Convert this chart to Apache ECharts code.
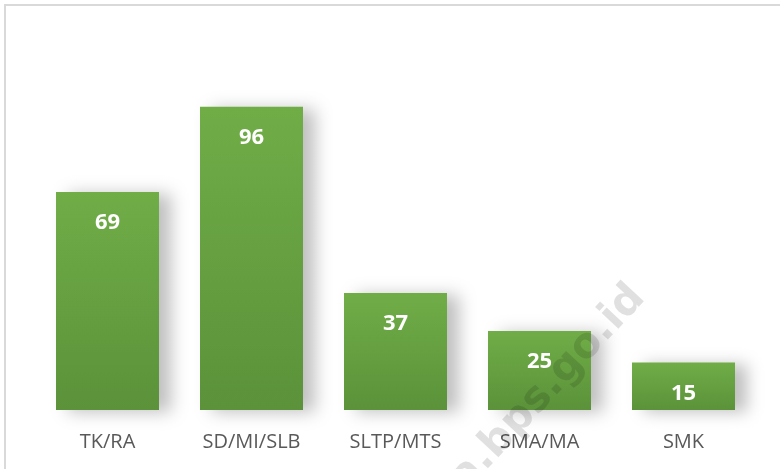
<!DOCTYPE html>
<html>
<head>
<meta charset="utf-8">
<script src="https://cdn.jsdelivr.net/npm/echarts@6/dist/echarts.min.js"></script>
<style>
  html, body { margin: 0; padding: 0; background: #fff; }
  #chart-container { width: 780px; height: 469px; }
</style>
</head>
<body>
<div id="chart-container"></div>
<script>
// jenjang pendidikan
var categories = ['TK/RA', 'SD/MI/SLB', 'SLTP/MTS', 'SMA/MA', 'SMK'];
var values = [69, 96, 37, 25, 15];

var myChart = echarts.init(document.getElementById('chart-container'));

var option = {
    backgroundColor: '#ffffff',
    animation: false,
    grid: {
        left: 35.5,
        right: 24.5,
        top: 94,
        bottom: 59
    },
    xAxis: {
        type: 'category',
        data: categories,
        axisLine: { show: false },
        axisTick: { show: false },
        axisLabel: {
            color: '#595959',
            fontFamily: 'Open Sans',
            fontSize: 20,
            margin: 22
        }
    },
    yAxis: {
        type: 'value',
        min: 0,
        max: 100,
        show: false,
        splitLine: { show: false }
    },
    graphic: [
        {
            type: 'rect',
            shape: { x: 5, y: 5, width: 800, height: 500 },
            style: { fill: 'none', stroke: '#d9d9d9', lineWidth: 2 },
            z: 0
        },
        {
            type: 'text',
            x: 548,
            y: 388,
            rotation: 0.82,
            style: {
                text: 'a.bps.go.id',
                fill: 'rgba(0,0,0,0.12)',
                font: 'bold 42px "DejaVu Sans"',
                align: 'center',
                verticalAlign: 'middle'
            },
            z: 100
        }
    ],
    series: [
        {
            type: 'bar',
            data: values,
            barWidth: 103,
            itemStyle: {
                color: new echarts.graphic.LinearGradient(0, 0, 0, 1, [
                    { offset: 0, color: '#70ad47' },
                    { offset: 1, color: '#5b923a' }
                ]),
                shadowColor: 'rgba(0,0,0,0.25)',
                shadowBlur: 16,
                shadowOffsetX: 12,
                shadowOffsetY: 2
            },
            label: {
                show: true,
                position: 'insideTop',
                distance: 20,
                color: '#ffffff',
                fontFamily: 'Open Sans',
                fontWeight: 'bold',
                fontSize: 22
            }
        }
    ]
};

myChart.setOption(option);
</script>
</body>
</html>
